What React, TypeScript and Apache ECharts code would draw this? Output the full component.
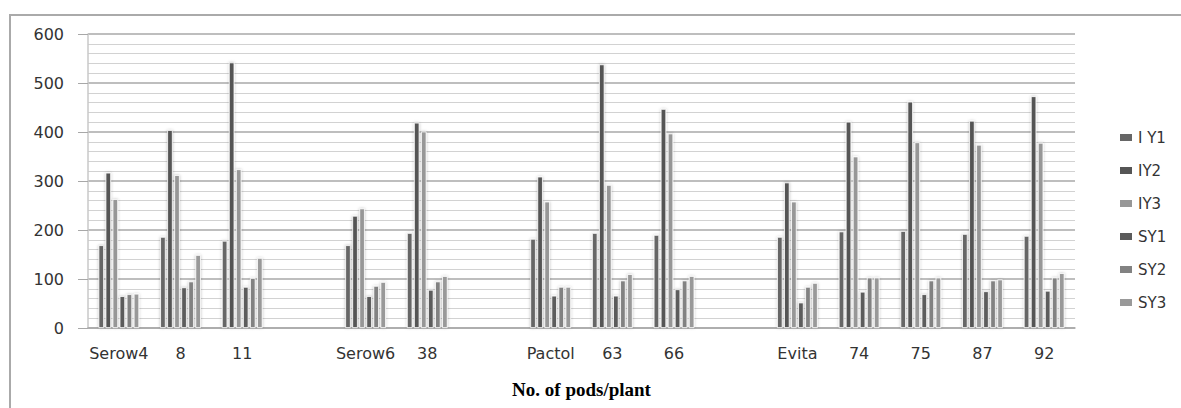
import React, { useEffect, useRef } from "react";
import * as echarts from "echarts";

const categories = ["Serow4", "8", "11", "", "Serow6", "38", "", "Pactol", "63", "66", "", "Evita", "74", "75", "87", "92"];
const seriesNames = ["I Y1", "IY2", "IY3", "SY1", "SY2", "SY3"];
const IY1 = [169, 186, 178, null, 169, 194, null, 182, 194, 190, null, 186, 197, 198, 192, 188];
const IY2 = [317, 404, 542, null, 229, 419, null, 309, 538, 447, null, 297, 421, 462, 423, 473];
const IY3 = [263, 312, 324, null, 244, 401, null, 258, 292, 397, null, 258, 350, 379, 374, 378];
const SY1 = [65, 83, 84, null, 65, 78, null, 66, 66, 79, null, 52, 74, 69, 75, 76];
const SY2 = [69, 95, 102, null, 86, 95, null, 84, 97, 97, null, 84, 103, 97, 97, 103];
const SY3 = [70, 149, 143, null, 94, 106, null, 84, 110, 106, null, 92, 103, 103, 99, 112];
const seriesData = [IY1, IY2, IY3, SY1, SY2, SY3];
const colors = ["#666666", "#555555", "#979797", "#5b5b5b", "#828282", "#999999"];
const yTicks = [0, 100, 200, 300, 400, 500, 600];

export default function App() {
  const ref = useRef<HTMLDivElement>(null);
  useEffect(() => {
    if (!ref.current) return;
    const chart = echarts.init(ref.current, null, { renderer: "svg" });
    chart.setOption({
      animation: false,
      backgroundColor: "#ffffff",
      textStyle: { fontFamily: "DejaVu Sans" },
      color: colors,
      graphic: [
        {
          type: "rect",
          shape: { x: 10, y: 15, width: 1220, height: 440 },
          style: { fill: "none", stroke: "#aaaaaa", lineWidth: 2 },
          silent: true,
        },
      ],
      legend: {
        orient: "vertical",
        left: 1113,
        top: 125,
        itemWidth: 14,
        itemHeight: 9,
        itemGap: 18,
        icon: "rect",
        textStyle: { fontSize: 15, color: "#333", fontFamily: "DejaVu Sans" },
        data: seriesNames,
      },
      grid: { left: 88, right: 106, top: 34, bottom: 80 },
      xAxis: {
        type: "category",
        data: categories,
        axisLine: { lineStyle: { color: "#a8a8a8", width: 1.5 } },
        axisTick: { show: false },
        axisLabel: { fontSize: 16, color: "#333", margin: 17, interval: 0, fontFamily: "DejaVu Sans" },
        name: "No. of pods/plant",
        nameLocation: "middle",
        nameGap: 52,
        nameTextStyle: { fontFamily: "Liberation Serif", fontWeight: "bold", fontSize: 19, color: "#000" },
      },
      yAxis: {
        type: "value",
        min: yTicks[0],
        max: yTicks[yTicks.length - 1],
        interval: 100,
        axisLine: { show: true, lineStyle: { color: "#c8c8c8", width: 1.5 } },
        axisTick: { show: true, length: 10, lineStyle: { color: "#a8a8a8" } },
        axisLabel: { fontSize: 16, color: "#333", margin: 24, fontFamily: "DejaVu Sans" },
        splitLine: { lineStyle: { color: "#a8a8a8", width: 1.5 } },
        minorTick: { show: false, splitNumber: 5 },
        minorSplitLine: { show: true, lineStyle: { color: "#d2d2d2", width: 1.2 } },
      },
      series: seriesNames.map((name, i) => ({
        name,
        type: "bar",
        data: seriesData[i],
        barGap: "28%",
        barCategoryGap: "34%",
        itemStyle: {
          color: colors[i],
          borderColor: "#ffffff",
          borderWidth: 0.8,
          shadowBlur: 3,
          shadowColor: "rgba(0,0,0,0.25)",
        },
      })),
    });
    return () => chart.dispose();
  }, []);
  return <div ref={ref} style={{ width: 1181, height: 408, position: "absolute", left: 0, top: 0 }} />;
}
